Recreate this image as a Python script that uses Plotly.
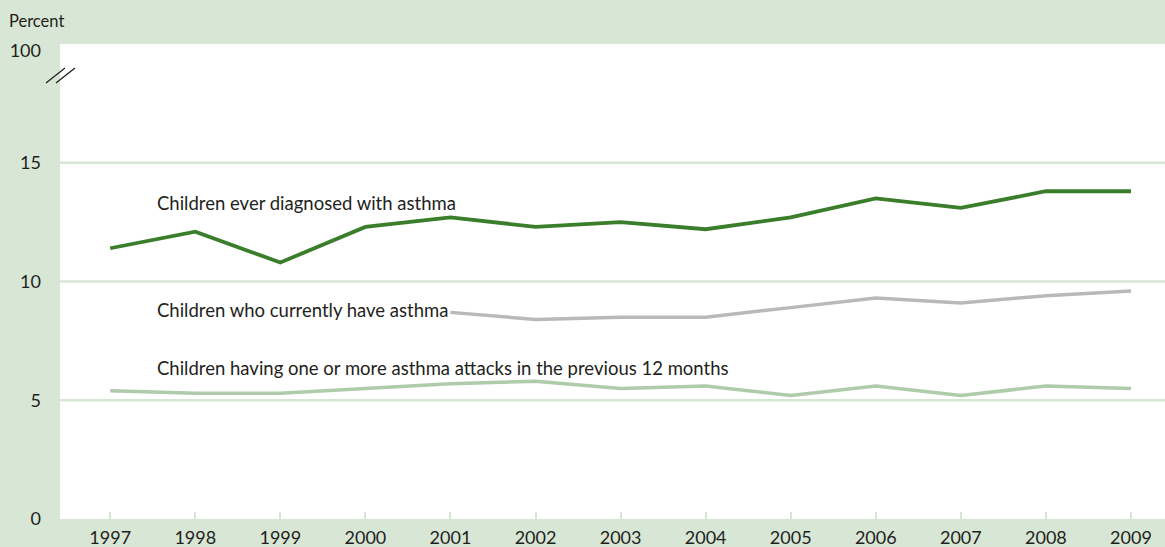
import plotly.graph_objects as go

years = list(range(1997, 2010))
ever_diagnosed = [11.4, 12.1, 10.8, 12.3, 12.7, 12.3, 12.5, 12.2, 12.7, 13.5, 13.1, 13.8, 13.8]
current_years = list(range(2001, 2010))
current_asthma = [8.7, 8.4, 8.5, 8.5, 8.9, 9.3, 9.1, 9.4, 9.6]
attacks = [5.4, 5.3, 5.3, 5.5, 5.7, 5.8, 5.5, 5.6, 5.2, 5.6, 5.2, 5.6, 5.5]

y_tickvals = [0, 5, 10, 15, 19.7]
y_ticktext = ["0", "5", "10", "15", "100"]

BG = "#d8e6d5"
TEXT = "#231f20"
FONT = "Lato"

fig = go.Figure()
fig.add_trace(go.Scatter(x=years, y=attacks, mode="lines",
                         line=dict(color="#aecbaa", width=3.5), hoverinfo="skip"))
fig.add_trace(go.Scatter(x=current_years, y=current_asthma, mode="lines",
                         line=dict(color="#b9b9b7", width=3.5), hoverinfo="skip"))
fig.add_trace(go.Scatter(x=years, y=ever_diagnosed, mode="lines",
                         line=dict(color="#3a7e2c", width=3.8), hoverinfo="skip"))

labels = [
    ("Children ever diagnosed with asthma", 13.3),
    ("Children who currently have asthma", 8.8),
    ("Children having one or more asthma attacks in the previous 12 months", 6.35),
]
for text, yv in labels:
    fig.add_annotation(x=1997.53, y=yv, text=text, showarrow=False,
                       xanchor="left", yanchor="middle",
                       font=dict(family=FONT, size=18.5, color=TEXT))

fig.add_annotation(xref="paper", yref="paper", x=-53 / 1105, y=1 + 23 / 475,
                   text="Percent", showarrow=False, xanchor="left", yanchor="middle",
                   font=dict(family=FONT, size=16.5, color=TEXT))

# axis break marks
for dx in (0, 10):
    fig.add_shape(type="line", xref="paper", yref="paper",
                  x0=(-14 + dx) / 1105, x1=(5 + dx) / 1105,
                  y0=1 - 39 / 475, y1=1 - 24 / 475,
                  line=dict(color=TEXT, width=1.3))

fig.update_layout(
    width=1165, height=547,
    margin=dict(l=60, r=0, t=44, b=28),
    paper_bgcolor=BG, plot_bgcolor="white",
    showlegend=False,
    font=dict(family=FONT, color=TEXT),
    xaxis=dict(range=[1996.41, 2009.4], tickvals=years,
               ticks="inside", ticklen=7, tickwidth=2, tickcolor=BG,
               ticklabelstandoff=6, automargin=False,
               showgrid=False, zeroline=False, showline=False,
               tickfont=dict(family=FONT, size=18, color=TEXT), fixedrange=True),
    yaxis=dict(range=[0, 20], tickvals=y_tickvals, ticktext=y_ticktext,
               showgrid=False, zeroline=False, showline=False, ticks="",
               ticklabelstandoff=18, automargin=False,
               tickfont=dict(family=FONT, size=18, color=TEXT), fixedrange=True),
)

# horizontal reference lines
for g in (5, 10, 15):
    fig.add_shape(type="line", xref="paper", yref="y", x0=0, x1=1, y0=g, y1=g,
                  line=dict(color=BG, width=2.5), layer="below")

fig.write_html("out.html")
